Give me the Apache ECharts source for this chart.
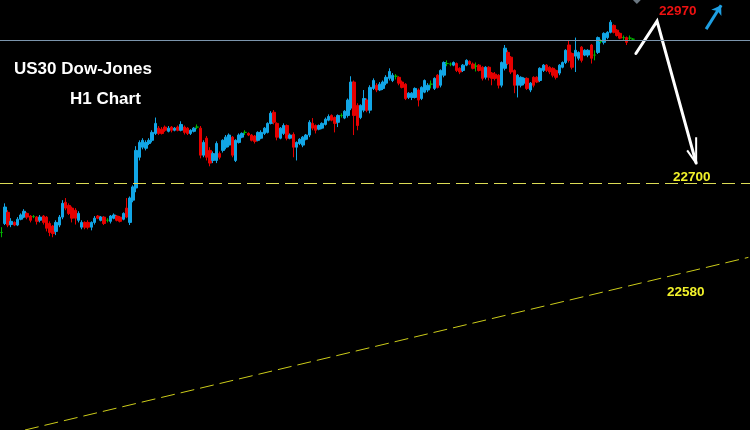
<!DOCTYPE html>
<html>
<head>
<meta charset="utf-8">
<script src="https://cdn.jsdelivr.net/npm/echarts@6/dist/echarts.min.js"></script>
<style>
html,body{margin:0;padding:0;background:#000;}
#chart{width:750px;height:430px;}
</style>
</head>
<body>
<div id="chart"></div>
<script>
// ---- data (prices) ----
const slotCount = 234; // hourly slots across the window (candles fill the first part)
const categories = Array.from({length: slotCount}, (_, i) => 'H' + i);

// [open, close, low, high]
const candles = [
[22607,22607,22598,22617],[22624,22655,22621,22662],[22645,22621,22617,22649],[22622,22628,22617,22634],
[22626,22621,22619,22628],[22621,22632,22619,22636],[22632,22640,22630,22643],[22636,22647,22634,22651],
[22643,22636,22632,22645],[22638,22630,22626,22640],[22637,22637,22634,22640],[22636,22628,22622,22638],
[22630,22636,22626,22640],[22638,22626,22622,22640],[22636,22615,22609,22638],[22624,22607,22600,22628],
[22619,22605,22598,22621],[22609,22626,22602,22630],[22621,22636,22617,22640],[22636,22662,22632,22668],
[22664,22653,22649,22672],[22658,22643,22640,22662],[22653,22634,22626,22656],[22649,22634,22622,22653],
[22630,22643,22626,22647],[22617,22626,22613,22630],[22626,22617,22613,22628],[22626,22617,22613,22630],
[22617,22626,22611,22628],[22626,22634,22622,22638],[22638,22634,22632,22640],[22630,22636,22628,22638],
[22636,22624,22621,22638],[22630,22630,22626,22634],[22628,22638,22624,22640],[22634,22640,22632,22643],
[22638,22630,22628,22640],[22636,22628,22626,22638],[22632,22643,22630,22645],[22653,22636,22634,22672],
[22626,22672,22621,22675],[22668,22693,22664,22696],[22691,22762,22683,22770],
[22749,22777,22743,22781],[22768,22781,22764,22785],[22766,22777,22762,22781],[22775,22781,22772,22785],
[22781,22796,22777,22800],[22794,22813,22791,22824],[22804,22794,22791,22808],[22802,22794,22792,22806],
[22806,22800,22797,22809],[22798,22804,22796,22808],[22806,22800,22796,22808],[22800,22804,22798,22806],
[22806,22800,22798,22809],[22800,22811,22798,22817],[22806,22796,22792,22809],[22804,22794,22791,22806],
[22794,22800,22791,22802],[22798,22804,22796,22806],[22806,22806,22802,22811],[22804,22753,22747,22808],
[22753,22777,22749,22781],[22785,22749,22743,22789],[22762,22738,22732,22768],[22743,22756,22738,22760],
[22743,22775,22738,22779],[22756,22749,22745,22760],[22762,22781,22758,22783],[22768,22787,22764,22791],
[22772,22791,22768,22794],[22787,22753,22749,22789],[22743,22781,22740,22783],[22777,22791,22775,22794],
[22787,22794,22785,22796],[22796,22796,22791,22800],[22794,22791,22789,22796],[22791,22781,22779,22793],
[22789,22779,22775,22791],[22781,22796,22779,22798],[22785,22796,22783,22800],[22794,22804,22791,22806],
[22796,22813,22794,22815],[22813,22832,22811,22836],[22834,22815,22811,22838],[22813,22787,22781,22815],
[22785,22804,22783,22806],[22794,22809,22791,22813],[22809,22785,22781,22811],[22785,22791,22783,22794],
[22792,22768,22749,22796],[22768,22777,22743,22779],[22775,22783,22772,22785],[22772,22787,22768,22789],
[22783,22791,22781,22793],
[22791,22815,22787,22819],[22813,22804,22800,22823],[22809,22800,22794,22811],[22802,22809,22800,22811],
[22804,22813,22802,22815],[22811,22821,22809,22824],[22819,22826,22817,22830],[22828,22819,22817,22830],
[22824,22813,22796,22826],[22815,22828,22806,22830],[22828,22828,22824,22832],[22823,22836,22821,22838],
[22828,22857,22824,22860],[22842,22891,22838,22902],[22891,22828,22791,22894],[22847,22809,22800,22851],
[22824,22847,22821,22849],[22838,22860,22834,22876],[22857,22838,22834,22860],[22838,22881,22832,22885],
[22879,22894,22876,22898],[22885,22876,22872,22889],[22876,22887,22874,22891],[22879,22891,22876,22894],
[22889,22900,22885,22904],[22898,22911,22894,22917],[22894,22904,22891,22908],[22902,22902,22896,22906],
[22900,22889,22885,22902],[22891,22881,22879,22894],[22887,22860,22857,22889],[22862,22870,22859,22872],
[22862,22870,22857,22872],[22862,22879,22860,22881],[22876,22857,22845,22879],[22860,22881,22857,22883],
[22872,22894,22870,22896],[22876,22885,22872,22889],[22887,22887,22879,22894],[22879,22898,22876,22900],
[22904,22881,22879,22906],[22885,22913,22881,22915],[22904,22928,22900,22930],[22926,22926,22921,22932],
[22925,22925,22921,22928],[22923,22928,22921,22930],[22926,22913,22910,22928],[22917,22910,22906,22919],
[22913,22923,22910,22925],[22923,22932,22921,22934],[22930,22925,22923,22932],
[22925,22917,22915,22928],[22921,22921,22911,22928],[22923,22913,22911,22925],[22919,22898,22894,22921],
[22900,22919,22896,22921],[22919,22900,22894,22921],[22908,22898,22885,22910],[22906,22898,22894,22910],
[22904,22885,22879,22906],[22885,22928,22881,22930],[22917,22955,22913,22961],[22947,22926,22923,22951],
[22938,22910,22906,22940],[22913,22885,22870,22915],[22885,22904,22862,22906],[22885,22900,22881,22902],
[22889,22898,22885,22900],[22898,22879,22876,22900],[22876,22889,22872,22891],[22900,22885,22881,22902],
[22900,22891,22889,22902],[22894,22917,22891,22919],[22913,22923,22910,22925],[22923,22913,22910,22925],
[22919,22910,22906,22921],[22917,22904,22900,22919],[22913,22900,22896,22915],[22908,22923,22904,22925],
[22919,22928,22917,22930],[22928,22951,22925,22953],[22961,22932,22928,22970],[22945,22919,22915,22947],
[22940,22951,22910,22975],[22936,22947,22932,22949],[22957,22932,22928,22959],[22942,22951,22940,22953],
[22942,22951,22938,22953],[22961,22936,22926,22963],[22942,22942,22932,22951],[22947,22975,22944,22977],
[22968,22968,22964,22972],[22966,22983,22962,22985],[22975,22985,22972,22987],[22985,23004,22983,23008],
[22998,22985,22983,23000],[22989,22979,22977,22991],[22983,22974,22972,22985],[22975,22975,22970,22979],
[22975,22966,22961,22977],[22974,22974,22970,22979],[22972,22972,22970,22974]
];

// annotation levels and drawn objects (slot index, price)
const resistanceLevel = 22970;
const targetLevel = 22700;
const trendLine = [[7.3, 22234], [233, 22560]];
const zigzagArrow = [[197.9, 22945], [204.5, 23006], [216.7, 22738]];
const zigzagHead = [[213.9, 22762], [216.7, 22738], [216.7, 22787]];
const blueArrow = [[219.8, 22991], [224.5, 23036]];
const topMarker = [[198.2, 23049]];
const labels = {
  title: 'US30 Dow-Jones', sub: 'H1 Chart',
  r: '22970', t: '22700', tl: '22580'
};

const UP = '#12a6e6', DOWN = '#e60000', DOJI = '#00b400';

const chart = echarts.init(document.getElementById('chart'), null, {renderer: 'canvas'});
const textFont = '"Liberation Sans", Arial, sans-serif';
chart.setOption({
  backgroundColor: '#000000',
  animation: false,
  grid: {left: 0, right: 0, top: 0, bottom: 0},
  xAxis: [
    {type: 'category', data: categories, boundaryGap: true, show: false},
    {type: 'value', min: -0.5, max: slotCount - 0.5, show: false}
  ],
  yAxis: [{type: 'value', min: 22234, max: 23046, show: false, splitLine: {show: false}}],
  series: [
    {
      type: 'candlestick', data: candles, barWidth: 3, silent: true,
      itemStyle: {color: UP, color0: DOWN, borderColor: UP, borderColor0: DOWN, borderColorDoji: DOJI, borderWidth: 1},
      markLine: {
        silent: true, symbol: ['none', 'none'], label: {show: false},
        data: [
          {yAxis: resistanceLevel, lineStyle: {color: '#7b95ad', width: 1, type: 'solid'}},
          {yAxis: targetLevel, lineStyle: {color: '#dcdc55', width: 1, type: [13, 6]}}
        ]
      }
    },
    {
      type: 'line', xAxisIndex: 1, data: trendLine, symbol: 'none', silent: true,
      lineStyle: {color: '#cccc1a', width: 1, type: [14, 6]}
    },
    {
      type: 'line', xAxisIndex: 1, data: zigzagArrow, symbol: 'none', silent: true,
      lineStyle: {color: '#ffffff', width: 3, cap: 'round', join: 'miter'}
    },
    {
      type: 'line', xAxisIndex: 1, data: zigzagHead, symbol: 'none', silent: true,
      lineStyle: {color: '#ffffff', width: 2}
    },
    {
      type: 'line', xAxisIndex: 1, data: [], symbol: 'none', silent: true,
      markLine: {
        silent: true, symbol: ['none', 'arrow'], symbolSize: 9, label: {show: false},
        lineStyle: {color: '#1e9fe2', width: 3, type: 'solid'},
        data: [[{coord: blueArrow[0]}, {coord: blueArrow[1]}]]
      }
    },
    {
      type: 'scatter', xAxisIndex: 1, data: topMarker, symbol: 'diamond', symbolSize: 11,
      clip: false, silent: true, itemStyle: {color: '#8593a0'}
    }
  ],
  graphic: [
    {type: 'text', left: 14, top: 61, style: {text: labels.title, fill: '#ffffff', font: 'bold 17px ' + textFont}},
    {type: 'text', left: 70, top: 91, style: {text: labels.sub, fill: '#ffffff', font: 'bold 17px ' + textFont}},
    {type: 'text', left: 659, top: 4, style: {text: labels.r, fill: '#ee1111', font: 'bold 13.5px ' + textFont}},
    {type: 'text', left: 673, top: 170, style: {text: labels.t, fill: '#f2f22a', font: 'bold 13.5px ' + textFont}},
    {type: 'text', left: 667, top: 285, style: {text: labels.tl, fill: '#f2f22a', font: 'bold 13.5px ' + textFont}}
  ]
});
</script>
</body>
</html>
